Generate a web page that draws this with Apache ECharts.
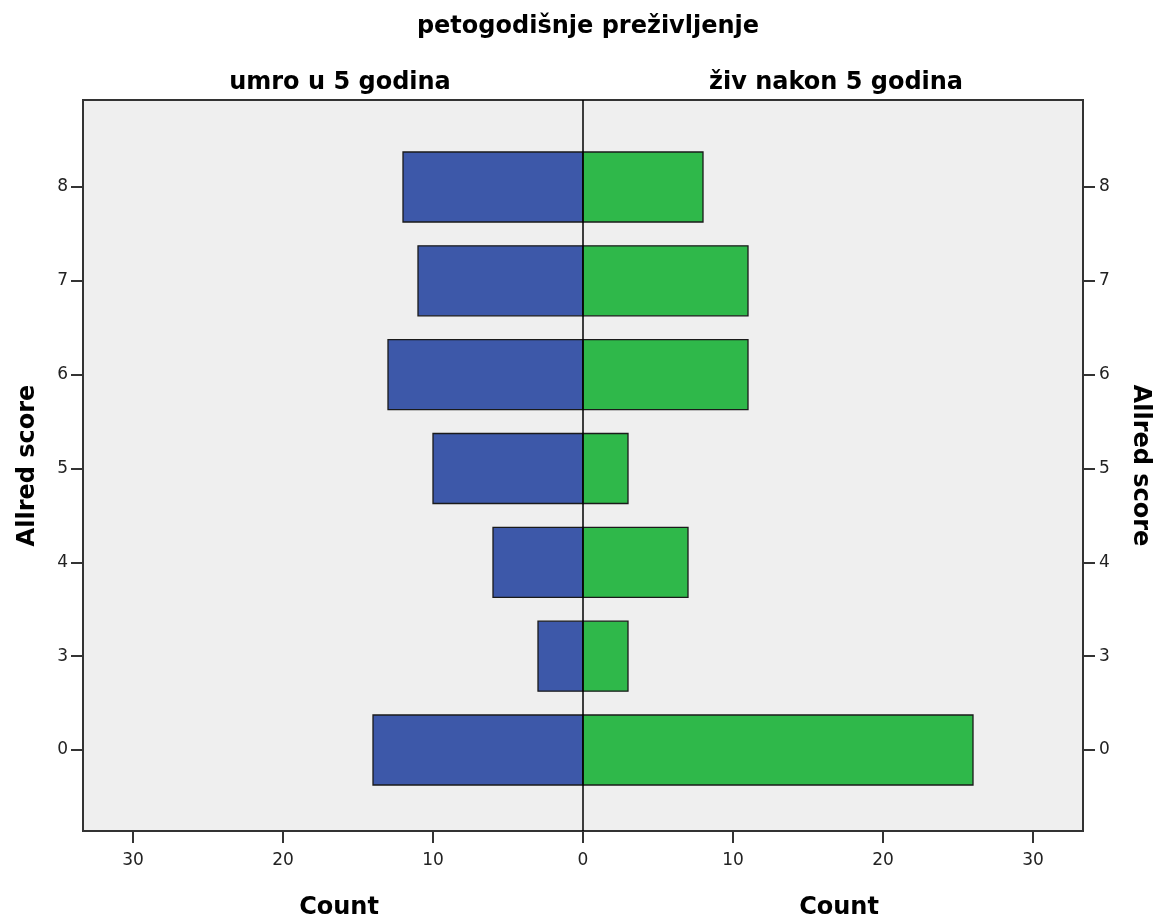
<!DOCTYPE html>
<html>
<head>
<meta charset="utf-8">
<script src="https://cdn.jsdelivr.net/npm/echarts@6/dist/echarts.min.js"></script>
<style>html,body{margin:0;padding:0;background:#fff}#c{width:1163px;height:920px}</style>
</head>
<body>
<div id="c"></div>
<script>
const categories = ['0', '3', '4', '5', '6', '7', '8'];
const died = [14, 3, 6, 10, 13, 11, 12];
const alive = [26, 3, 7, 3, 11, 11, 8];
const xTicks = [-30, -20, -10, 0, 10, 20, 30];
const mainTitle = 'petogodišnje preživljenje';
const groupLeft = 'umro u 5 godina';
const groupRight = 'živ nakon 5 godina';
const axisTitleX = 'Count';
const axisTitleY = 'Allred score';

const yIdx = categories.map((c, i) => i);
const diedData = died.map((v, i) => [-v, i]);
const aliveData = alive.map((v, i) => [v, i]);

const FONT = '"DejaVu Sans", sans-serif';
const BAR_H = 0.746;
const YMIN = -0.863, YMAX = 6.927;
const boldText = size => ({ fontFamily: FONT, fontWeight: 'bold', fontSize: size, color: '#000' });

function barRenderer(color) {
  return function (params, api) {
    const v = api.value(0), y = api.value(1);
    const p0 = api.coord([0, y]);
    const p1 = api.coord([v, y]);
    const h = api.size([0, BAR_H])[1];
    return {
      type: 'rect',
      shape: { x: Math.min(p0[0], p1[0]), y: p0[1] - h / 2, width: Math.abs(p1[0] - p0[0]), height: h },
      style: { fill: color, stroke: '#1a1a1a', lineWidth: 1.3 }
    };
  };
}

function makeYAxis(position, nameGap, nameRotate, labelMargin) {
  return {
    type: 'value', min: YMIN, max: YMAX, position: position,
    name: axisTitleY, nameLocation: 'middle', nameGap: nameGap, nameRotate: nameRotate,
    nameTextStyle: boldText(24),
    axisLine: { show: true, onZero: false, lineStyle: { color: '#333', width: 2 } },
    axisTick: { show: true, inside: false, length: 12, customValues: yIdx.slice(), lineStyle: { color: '#333', width: 2 } },
    axisLabel: { show: true, customValues: yIdx.slice(), margin: labelMargin, fontFamily: FONT, fontSize: 17, color: '#222',
      formatter: v => categories[Math.round(v)] },
    splitLine: { show: false }
  };
}

const chart = echarts.init(document.getElementById('c'));
chart.setOption({
  animation: false,
  backgroundColor: '#ffffff',
  title: [
    { text: mainTitle, left: 583, top: 10, textAlign: 'center', textStyle: boldText(24) },
    { text: groupLeft, left: 335, top: 66, textAlign: 'center', textStyle: boldText(24) },
    { text: groupRight, left: 831, top: 66, textAlign: 'center', textStyle: boldText(24) },
    { text: axisTitleX, left: 334, top: 891, textAlign: 'center', textStyle: boldText(24) },
    { text: axisTitleX, left: 834, top: 891, textAlign: 'center', textStyle: boldText(24) }
  ],
  grid: { left: 83, right: 80, top: 100, bottom: 89, show: true, backgroundColor: '#efefef', borderColor: '#333', borderWidth: 2 },
  xAxis: {
    type: 'value', min: -100 / 3, max: 100 / 3,
    axisLine: { show: true, onZero: false, lineStyle: { color: '#333', width: 2 } },
    axisTick: { show: true, length: 12, customValues: xTicks, lineStyle: { color: '#333', width: 2 } },
    axisLabel: { customValues: xTicks, margin: 21, fontFamily: FONT, fontSize: 17, color: '#222', formatter: v => String(Math.abs(v)) },
    splitLine: { show: false }
  },
  yAxis: [
    makeYAxis('left', 43, 90, 15),
    makeYAxis('right', 45, -90, 16)
  ],
  series: [
    { type: 'custom', name: groupLeft, renderItem: barRenderer('#3d58a9'), encode: { x: 0, y: 1 }, data: diedData, z: 2 },
    { type: 'custom', name: groupRight, renderItem: barRenderer('#2fb84a'), encode: { x: 0, y: 1 }, data: aliveData, z: 2 },
    { type: 'line', data: [[0, YMIN], [0, YMAX]], symbol: 'none', lineStyle: { color: '#000', width: 1.5 }, z: 5, silent: true }
  ]
});
</script>
</body>
</html>
